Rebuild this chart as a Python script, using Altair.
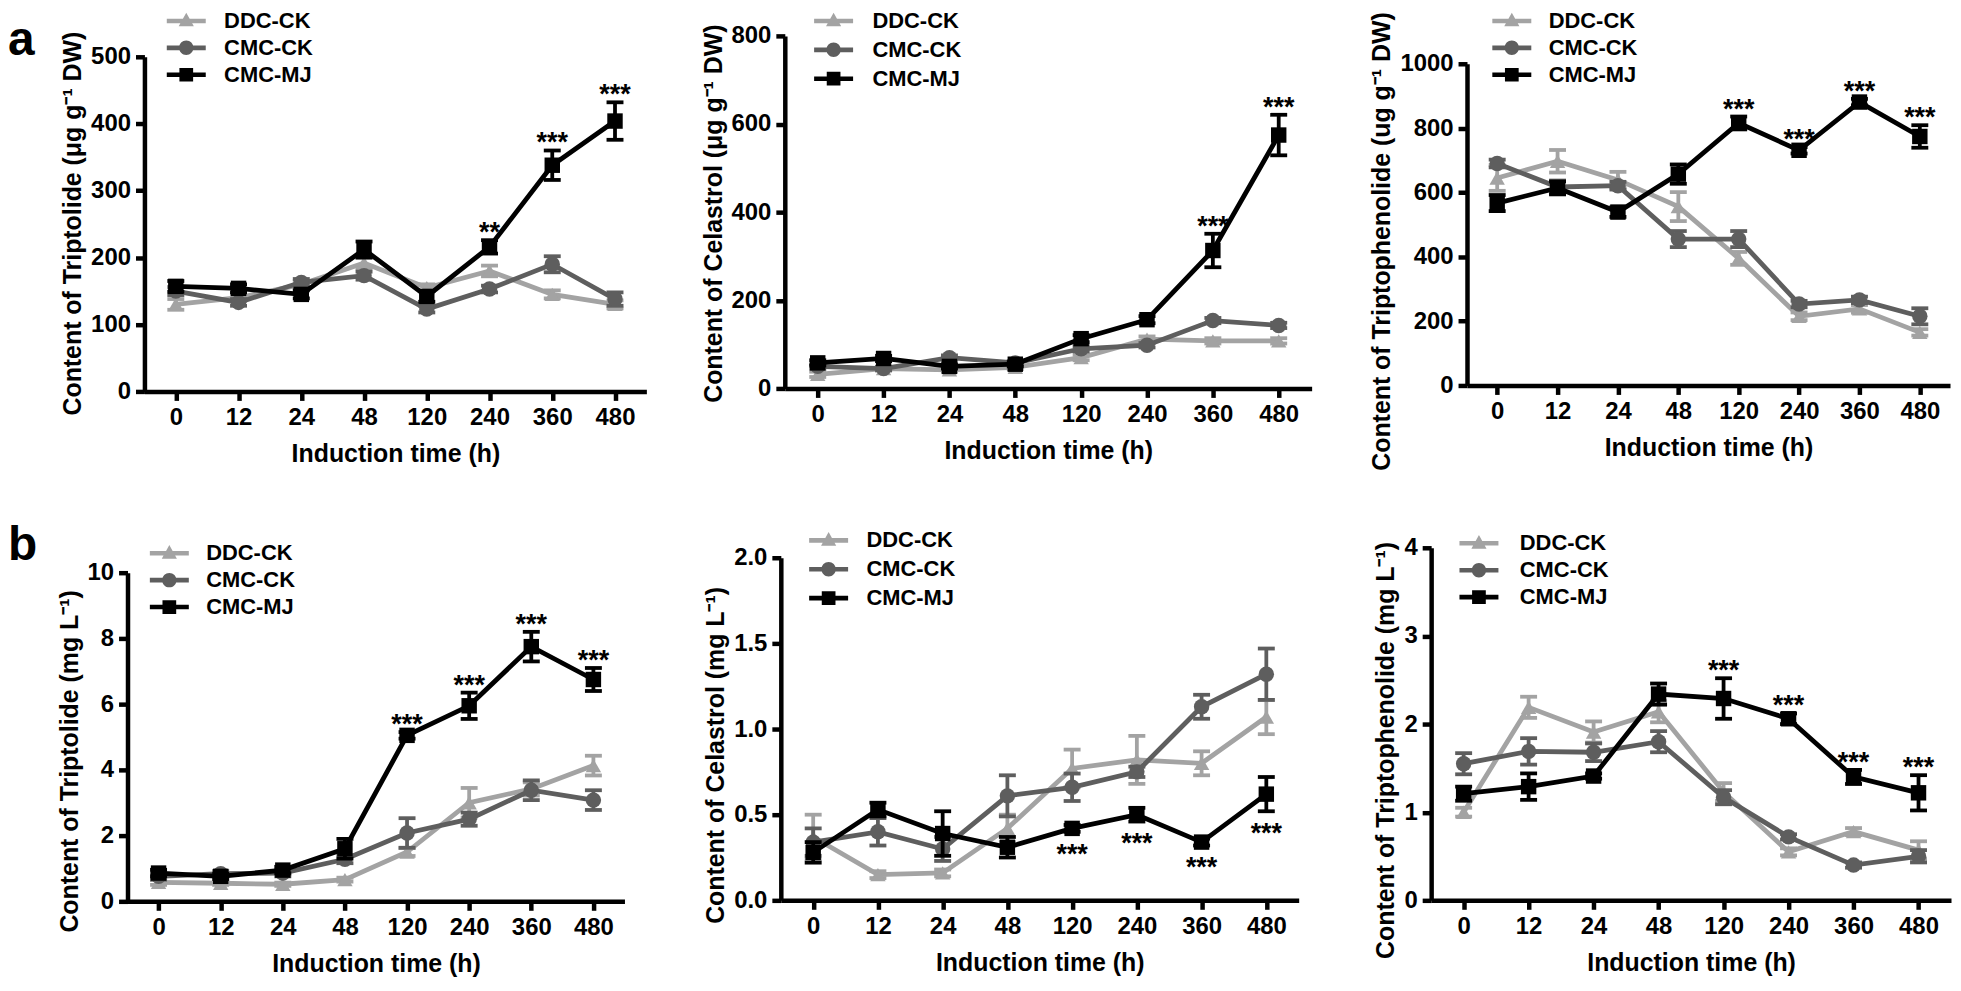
import altair as alt
import pandas as pd

# ---------------- data ----------------
TIMES = ["0", "12", "24", "48", "120", "240", "360", "480"]
SERIES = ["DDC-CK", "CMC-CK", "CMC-MJ"]

# a1: Triptolide (ug/g DW)
A1_DDC = [130, 140, 160, 192, 155, 180, 145, 130]
A1_DDC_ERR = [8, 5, 5, 8, 5, 8, 6, 6]
A1_CK = [150, 133, 163, 173, 123, 153, 190, 138]
A1_CK_ERR = [6, 5, 5, 6, 5, 5, 12, 10]
A1_MJ = [157, 154, 145, 212, 142, 216, 338, 404]
A1_MJ_ERR = [8, 6, 6, 12, 8, 10, 22, 28]
A1_STARS = ["", "", "", "", "", "**", "***", "***"]

# a2: Celastrol (ug/g DW)
A2_DDC = [32, 45, 42, 48, 70, 112, 108, 108]
A2_DDC_ERR = [6, 4, 4, 4, 6, 6, 6, 6]
A2_CK = [50, 45, 70, 58, 90, 98, 154, 143]
A2_CK_ERR = [5, 4, 5, 4, 6, 5, 6, 6]
A2_MJ = [58, 68, 50, 55, 113, 156, 313, 575]
A2_MJ_ERR = [6, 6, 5, 5, 8, 8, 38, 46]
A2_STARS = ["", "", "", "", "", "", "***", "***"]

# a3: Triptophenolide (ug/g DW)
A3_DDC = [645, 697, 639, 556, 395, 215, 238, 165]
A3_DDC_ERR = [40, 35, 25, 45, 20, 12, 12, 10]
A3_CK = [690, 617, 621, 455, 455, 253, 266, 215]
A3_CK_ERR = [12, 20, 12, 25, 25, 10, 10, 25]
A3_MJ = [567, 614, 539, 657, 816, 731, 881, 774]
A3_MJ_ERR = [25, 20, 15, 30, 20, 10, 10, 35]
A3_STARS = ["", "", "", "", "***", "***", "***", "***"]

# b1: Triptolide (mg/L)
B1_DDC = [0.58, 0.55, 0.52, 0.66, 1.5, 3.0, 3.42, 4.13]
B1_DDC_ERR = [0.08, 0.05, 0.05, 0.06, 0.12, 0.45, 0.2, 0.3]
B1_CK = [0.76, 0.84, 0.86, 1.28, 2.08, 2.5, 3.38, 3.08]
B1_CK_ERR = [0.1, 0.08, 0.1, 0.12, 0.45, 0.2, 0.3, 0.3]
B1_MJ = [0.86, 0.76, 0.95, 1.6, 5.05, 5.95, 7.75, 6.75]
B1_MJ_ERR = [0.1, 0.08, 0.1, 0.3, 0.1, 0.4, 0.45, 0.35]
B1_STARS = ["", "", "", "", "***", "***", "***", "***"]

# b2: Celastrol (mg/L)
B2_DDC = [0.37, 0.15, 0.16, 0.42, 0.77, 0.82, 0.80, 1.07]
B2_DDC_ERR = [0.13, 0.02, 0.02, 0.08, 0.11, 0.14, 0.07, 0.1]
B2_CK = [0.34, 0.40, 0.30, 0.61, 0.66, 0.75, 1.13, 1.32]
B2_CK_ERR = [0.08, 0.08, 0.07, 0.12, 0.08, 0.03, 0.07, 0.15]
B2_MJ = [0.28, 0.53, 0.39, 0.31, 0.42, 0.50, 0.34, 0.62]
B2_MJ_ERR = [0.06, 0.04, 0.13, 0.06, 0.02, 0.04, 0.02, 0.1]
B2_STARS = ["", "", "", "", "***", "***", "***", "***"]

# b3: Triptophenolide (mg/L)
B3_DDC = [1.0, 2.19, 1.91, 2.14, 1.23, 0.55, 0.78, 0.57]
B3_DDC_ERR = [0.05, 0.12, 0.12, 0.12, 0.1, 0.04, 0.04, 0.1]
B3_CK = [1.55, 1.69, 1.68, 1.80, 1.17, 0.72, 0.40, 0.50]
B3_CK_ERR = [0.12, 0.15, 0.1, 0.12, 0.08, 0.03, 0.03, 0.07]
B3_MJ = [1.21, 1.29, 1.41, 2.34, 2.29, 2.06, 1.40, 1.22]
B3_MJ_ERR = [0.08, 0.15, 0.03, 0.12, 0.23, 0.06, 0.08, 0.2]
B3_STARS = ["", "", "", "", "***", "***", "***", "***"]

PANELS = [
    dict(data=[(A1_DDC, A1_DDC_ERR), (A1_CK, A1_CK_ERR), (A1_MJ, A1_MJ_ERR)], stars=A1_STARS, below=False,
         ymax=500, yticks=[0, 100, 200, 300, 400, 500], yfmt="d",
         ytitle="Content of Triptolide (μg g⁻¹ DW)"),
    dict(data=[(A2_DDC, A2_DDC_ERR), (A2_CK, A2_CK_ERR), (A2_MJ, A2_MJ_ERR)], stars=A2_STARS, below=False,
         ymax=800, yticks=[0, 200, 400, 600, 800], yfmt="d",
         ytitle="Content of Celastrol (μg g⁻¹ DW)"),
    dict(data=[(A3_DDC, A3_DDC_ERR), (A3_CK, A3_CK_ERR), (A3_MJ, A3_MJ_ERR)], stars=A3_STARS, below=False,
         ymax=1000, yticks=[0, 200, 400, 600, 800, 1000], yfmt="d",
         ytitle="Content of Triptophenolide (ug g⁻¹ DW)"),
    dict(data=[(B1_DDC, B1_DDC_ERR), (B1_CK, B1_CK_ERR), (B1_MJ, B1_MJ_ERR)], stars=B1_STARS, below=False,
         ymax=10, yticks=[0, 2, 4, 6, 8, 10], yfmt="d",
         ytitle="Content of Triptolide (mg L⁻¹)"),
    dict(data=[(B2_DDC, B2_DDC_ERR), (B2_CK, B2_CK_ERR), (B2_MJ, B2_MJ_ERR)], stars=B2_STARS, below=True,
         ymax=2.0, yticks=[0, 0.5, 1.0, 1.5, 2.0], yfmt=".1f",
         ytitle="Content of Celastrol (mg L⁻¹)"),
    dict(data=[(B3_DDC, B3_DDC_ERR), (B3_CK, B3_CK_ERR), (B3_MJ, B3_MJ_ERR)], stars=B3_STARS, below=False,
         ymax=4, yticks=[0, 1, 2, 3, 4], yfmt="d",
         ytitle="Content of Triptophenolide (mg L⁻¹)"),
]

LETTERS = ["a", "b"]

# ---------------- style / layout ----------------
W, H = 1953, 975
FONT = "Liberation Sans"
COLORS = ["#a3a3a3", "#5e5e5e", "#000000"]
MARKERS = ["triangle-up", "circle", "square"]
BAR = "M-2.7,-0.32H2.7V0.32H-2.7Z"
LEG_PATHS = [
    BAR + "M0,-1.15L1.05,0.75H-1.05Z",
    BAR + "M1,0A1,1 0 1,1 -1,0A1,1 0 1,1 1,0Z",
    BAR + "M-0.95,-0.95H0.95V0.95H-0.95Z",
]

# plot-area rectangles (chart pixel coords) and legend placement for each panel
LAYOUT = [
    dict(x0=137, x1=641, yb=383, yt=47, ty=214, lx=168, ly=0, lo=27, rp=5),
    dict(x0=780, x1=1309, yb=380, yt=26, ty=204, lx=818, ly=0, lo=28, rp=7),
    dict(x0=1465, x1=1950, yb=377, yt=54, ty=232, lx=1499, ly=0, lo=26, rp=5),
    dict(x0=120, x1=619, yb=895, yt=565, ty=754, lx=151, ly=534.5, lo=26, rp=5),
    dict(x0=776, x1=1296, yb=894, yt=550, ty=748, lx=813, ly=521.5, lo=27, rp=7),
    dict(x0=1429, x1=1951, yb=894, yt=540, ty=743, lx=1466, ly=524.5, lo=30, rp=5),
]
LETTER_POS = [(0, 45), (0, 552)]

AX = dict(domainColor="black", domainWidth=4.5, tickColor="black", tickWidth=4.5, tickSize=9,
          labelFont=FONT, labelFontSize=24, labelFontWeight="bold", labelColor="black", labelPadding=5,
          titleFont=FONT, titleFontSize=25, titleFontWeight="bold", titleColor="black", grid=False)


def series_df(vals, errs, name):
    return pd.DataFrame({
        "time": TIMES,
        "idx": list(range(len(TIMES))),
        "value": vals,
        "lo": [v - e for v, e in zip(vals, errs)],
        "hi": [v + e for v, e in zip(vals, errs)],
        "series": name,
    })


def make_panel(p, lay):
    xs = alt.Scale(type="point", domain=TIMES, range=[lay["x0"], lay["x1"]], padding=0.5)
    ys = alt.Scale(domain=[0, p["ymax"]], range=[lay["yb"], lay["yt"]], nice=False, zero=False)
    xaxis = alt.Axis(orient="bottom", offset=lay["yb"] - H, title="Induction time (h)", labelAngle=0,
                     titlePadding=12, **AX)
    yaxis = alt.Axis(orient="left", offset=-lay["x0"], values=p["yticks"], format=p["yfmt"],
                     title=p["ytitle"], titleY=lay["ty"], titlePadding=5, **AX)
    X = alt.X("time:N", scale=xs, axis=xaxis, sort=TIMES)

    def Y(field):
        return alt.Y(field + ":Q", scale=ys, axis=yaxis)

    layers = []
    for name, col, shp, (vals, errs) in zip(SERIES, COLORS, MARKERS, p["data"]):
        base = alt.Chart(series_df(vals, errs, name))
        layers.append(base.mark_line(color=col, strokeWidth=4.8).encode(x=X, y=Y("value"), order="idx:Q"))
        layers.append(base.mark_rule(color=col, strokeWidth=3.8).encode(x=X, y=Y("lo"), y2="hi:Q"))
        layers.append(base.mark_tick(color=col, thickness=3.8, size=17, opacity=1).encode(x=X, y=Y("lo")))
        layers.append(base.mark_tick(color=col, thickness=3.8, size=17, opacity=1).encode(x=X, y=Y("hi")))
        layers.append(base.mark_point(shape=shp, filled=True, color=col, opacity=1, size=240).encode(x=X, y=Y("value")))

    mj_vals, mj_errs = p["data"][2]
    sdf = series_df(mj_vals, mj_errs, "CMC-MJ")
    sdf["label"] = p["stars"]
    sdf = sdf[sdf["label"] != ""]
    if p["below"]:
        stars = alt.Chart(sdf).mark_text(font=FONT, fontSize=27, fontWeight="bold", color="black",
                                          baseline="alphabetic", dy=31).encode(x=X, y=Y("lo"), text="label:N")
    else:
        stars = alt.Chart(sdf).mark_text(font=FONT, fontSize=27, fontWeight="bold", color="black",
                                          baseline="alphabetic", dy=1).encode(x=X, y=Y("hi"), text="label:N")
    layers.append(stars)

    leg = alt.Legend(orient="none", legendX=lay["lx"], legendY=lay["ly"], title=None,
                     labelFont=FONT, labelFontSize=22, labelFontWeight="bold", labelColor="black",
                     symbolSize=210, symbolStrokeWidth=0, symbolOpacity=1, labelOffset=lay["lo"],
                     rowPadding=lay["rp"], padding=0)
    legend_layer = alt.Chart(series_df(mj_vals, mj_errs, "CMC-MJ")).mark_point(filled=True, opacity=1).encode(
        x=X, y=Y("value"),
        color=alt.Color("series:N", scale=alt.Scale(domain=SERIES, range=COLORS), legend=leg),
        shape=alt.Shape("series:N", scale=alt.Scale(domain=SERIES, range=LEG_PATHS), legend=leg),
    ).transform_filter("datum.value < -1000")
    layers.append(legend_layer)
    return alt.layer(*layers)


panels = [make_panel(p, lay) for p, lay in zip(PANELS, LAYOUT)]

letter_layers = []
for letter, (lx, ly) in zip(LETTERS, LETTER_POS):
    letter_layers.append(
        alt.Chart(pd.DataFrame({"t": [letter]})).mark_text(
            font=FONT, fontSize=48, fontWeight="bold", color="black", align="left", baseline="alphabetic"
        ).encode(x=alt.value(lx), y=alt.value(ly), text="t:N")
    )

chart = alt.layer(*panels, *letter_layers).properties(
    width=W, height=H, padding=0, autosize=alt.AutoSizeParams(type="none")
).resolve_scale(
    x="independent", y="independent", color="independent", shape="independent"
).resolve_axis(
    x="independent", y="independent"
).resolve_legend(
    color="independent", shape="independent"
).configure_view(strokeWidth=0)

chart.save("out.html", embed_options={"renderer": "svg", "actions": False})
